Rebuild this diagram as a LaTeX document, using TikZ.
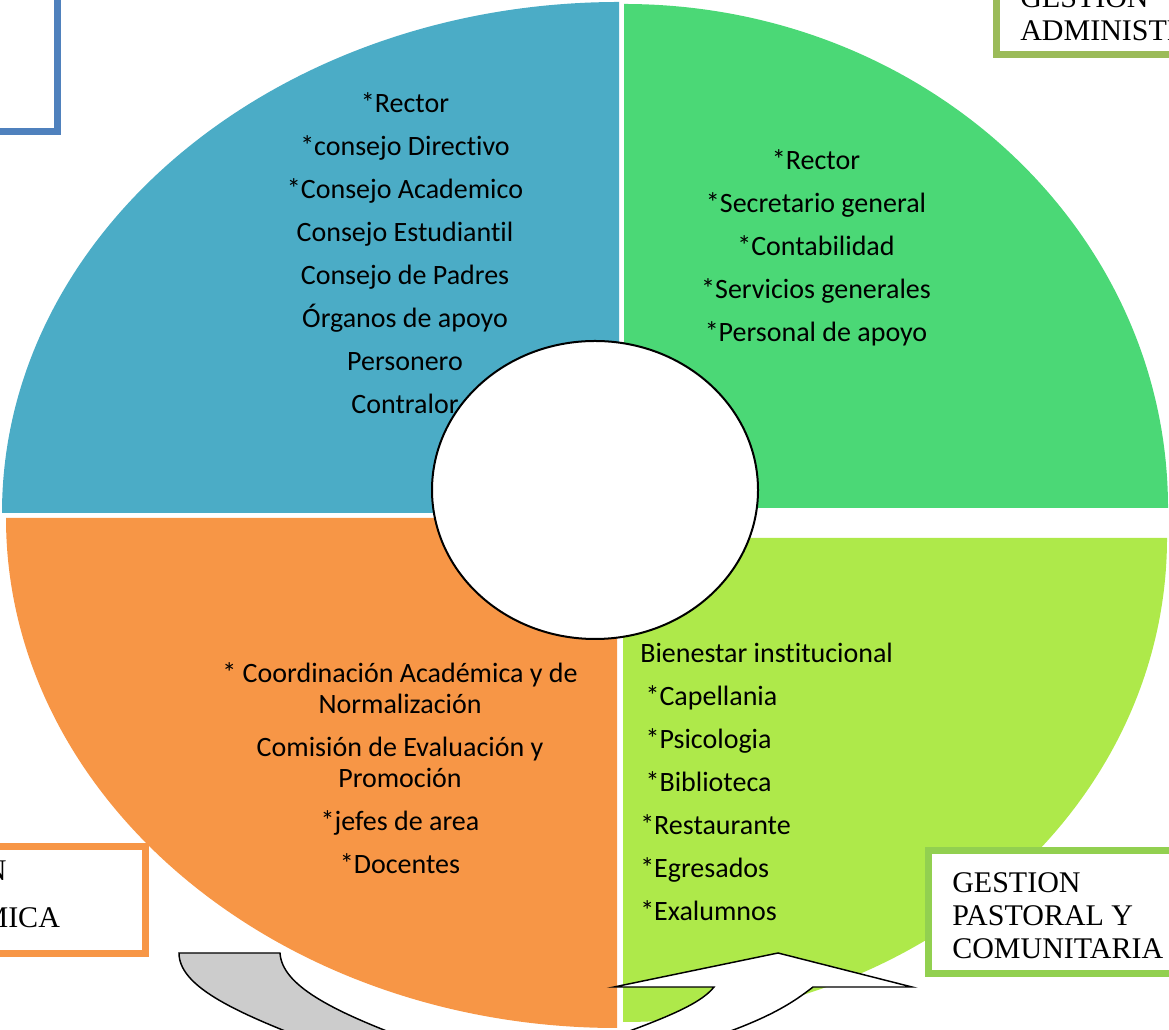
\documentclass[tikz,border=0pt]{standalone}
\usepackage{fontspec}
\setmainfont{Carlito}[Ligatures=NoCommon]
\newfontfamily\tagfont{Liberation Serif}
\usepackage{tikz}
\usetikzlibrary{shapes.geometric}
\definecolor{blueq}{HTML}{4BACC6}
\definecolor{greenq}{HTML}{4BD876}
\definecolor{orangeq}{HTML}{F79646}
\definecolor{limeq}{HTML}{AEE94A}
\definecolor{boxblue}{HTML}{4F81BD}
\definecolor{boxolive}{HTML}{9BBB59}
\definecolor{boxlime}{HTML}{92D050}
\definecolor{greyq}{HTML}{CCCCCC}

\begin{document}
\begin{tikzpicture}
    [x=0.75pt, y=0.75pt,
      list/.style={inner sep=0pt, font=\fontsize{21}{23.25}\selectfont},
      tag/.style={inner sep=0pt, align=left, font=\tagfont\fontsize{22.5}{24.75}\selectfont},
      frame/.style={line width=5.25pt, fill=white},
      turn/.style={draw=black, line width=1.1pt}]

    \useasboundingbox (0,0) rectangle (1169,1030);
    \clip (0,0) rectangle (1169,1030);

    \fill[blueq] (619,517) -- (2,517)
      arc[start angle=180, end angle=90, x radius=617, y radius=511] -- cycle;
    \fill[greenq] (624,522) -- (624,1026)
      arc[start angle=90, end angle=0, x radius=544, y radius=504] -- cycle;
    \fill[orangeq] (617,512) -- (6,512)
      arc[start angle=180, end angle=270, x radius=611, y radius=510] -- cycle;
    \fill[limeq] (623,492) -- (1167,492)
      arc[start angle=0, end angle=-90, x radius=544, y radius=484] -- cycle;

    \node[list, align=center, anchor=north] (direct) at (405,938)
      {*Rector\\[9pt] *consejo Directivo\\[9pt] *Consejo Academico\\[9pt]
       Consejo Estudiantil\\[9pt] Consejo de Padres\\[9pt] Órganos de apoyo\\[9pt]
       Personero\\[9pt] Contralor};
    \node[list, align=center, anchor=north] (admin) at (816,881)
      {*Rector\\[9pt] *Secretario general\\[9pt] *Contabilidad\\[9pt]
       *Servicios generales\\[9pt] *Personal de apoyo};
    \node[list, align=center, anchor=north] (acad) at (400,368)
      {* Coordinación Académica y de\\ Normalización\\[9pt]
       Comisión de Evaluación y\\ Promoción\\[9pt] *jefes de area\\[9pt] *Docentes};
    \node[list, align=left, anchor=north west] (pastoral) at (640,387)
      {Bienestar institucional\\[9pt] \hspace*{4pt}*Capellania\\[9pt]
       \hspace*{4pt}*Psicologia\\[9pt] \hspace*{4pt}*Biblioteca\\[9pt]
       *Restaurante\\[9pt] *Egresados\\[9pt] *Exalumnos};

    \node[draw, ellipse, fill=white, line width=1.5pt, inner sep=0pt,
      minimum width=244.5pt, minimum height=223.5pt] (core) at (595,540) {};

    \draw[frame, draw=boxblue] (-20,1050) rectangle (57.5,898.5);
    \draw[frame, draw=boxolive] (996.5,1050) rectangle (1190,975);
    \draw[frame, draw=orangeq] (-200,183) rectangle (145,76.5);
    \draw[frame, draw=boxlime] (928.5,179.5) rectangle (1190,56.5);

    \node[tag, anchor=north west] (gadmin) at (1020,1043) {GESTION\\ ADMINISTRATIVA};
    \node[tag, anchor=north west] (gacad) at (-122,170) {GESTION\\[10.5pt] ACADEMICA};
    \node[tag, anchor=north west] (gpast) at (952,158) {GESTION\\ PASTORAL Y\\ COMUNITARIA};

    \draw[turn, fill=greyq] (179,77) -- (280,77) .. controls (282,45) and (330,20) .. (410,-10)
      -- (308,-10) .. controls (230,20) and (179,45) .. (179,77) -- cycle;
    \draw[turn, fill=white] (614,43) -- (778,77) -- (912,43) -- (813,43)
      .. controls (790,25) and (765,10) .. (705,-10) -- (605,-10)
      .. controls (660,10) and (700,25) .. (714,43) -- cycle;
\end{tikzpicture}
\end{document}
